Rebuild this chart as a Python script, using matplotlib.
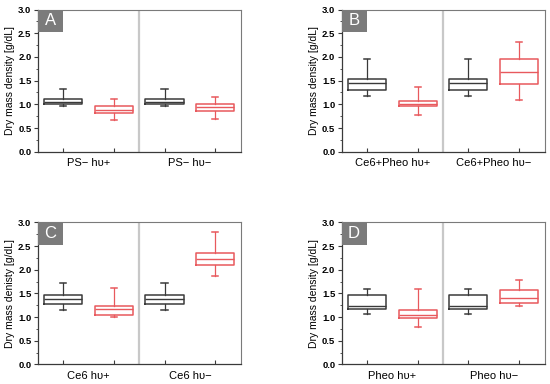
import matplotlib
matplotlib.use("Agg")
import matplotlib.pyplot as plt
from matplotlib.patches import Rectangle

plt.rcParams["font.family"] = ["Liberation Sans", "DejaVu Sans"]

# box statistics per panel: [ctrl hv+, treated hv+, ctrl hv-, treated hv-]
panel_letters = ["A", "B", "C", "D"]
group_labels = [
    ["PS\u2212 h\u03c5+", "PS\u2212 h\u03c5\u2212"],
    ["Ce6+Pheo h\u03c5+", "Ce6+Pheo h\u03c5\u2212"],
    ["Ce6 h\u03c5+", "Ce6 h\u03c5\u2212"],
    ["Pheo h\u03c5+", "Pheo h\u03c5\u2212"],
]
y_labels = [
    "Dry mass density [g/dL]",
    "Dry mass density [g/dL]",
    "Dry mass denisty [g/dL]",
    "Dry mass density [g/dL]",
]

whislo = [
    [0.97, 0.67, 0.97, 0.70],
    [1.17, 0.78, 1.17, 1.09],
    [1.14, 1.00, 1.14, 1.86],
    [1.07, 0.79, 1.07, 1.23],
]
q1 = [
    [1.01, 0.81, 1.01, 0.85],
    [1.30, 0.97, 1.30, 1.42],
    [1.27, 1.04, 1.27, 2.09],
    [1.18, 0.99, 1.18, 1.29],
]
med = [
    [1.05, 0.87, 1.05, 0.95],
    [1.45, 1.01, 1.45, 1.68],
    [1.38, 1.16, 1.38, 2.23],
    [1.24, 1.04, 1.24, 1.40],
]
q3 = [
    [1.11, 0.97, 1.11, 1.01],
    [1.54, 1.08, 1.54, 1.95],
    [1.47, 1.24, 1.47, 2.36],
    [1.47, 1.14, 1.47, 1.57],
]
whishi = [
    [1.32, 1.11, 1.32, 1.16],
    [1.95, 1.37, 1.95, 2.31],
    [1.71, 1.62, 1.71, 2.80],
    [1.59, 1.60, 1.59, 1.79],
]

BLACK = "#3a3a3a"
RED = "#e8595d"
box_colors = [BLACK, RED, BLACK, RED]

fig = plt.figure(figsize=(5.5, 3.84), dpi=100)
lefts = [0.0685, 0.621, 0.0685, 0.621]
bottoms = [0.605, 0.605, 0.051, 0.051]
W, H = 0.369, 0.370

for i in range(4):
    ax = fig.add_axes([lefts[i], bottoms[i], W, H])
    stats = []
    for j in range(4):
        stats.append(dict(whislo=whislo[i][j], q1=q1[i][j], med=med[i][j],
                          q3=q3[i][j], whishi=whishi[i][j], fliers=[]))
    for j, st in enumerate(stats):
        c = box_colors[j]
        ax.bxp([st], positions=[j + 1], widths=0.75, showfliers=False,
               boxprops=dict(color=c, linewidth=1.1),
               medianprops=dict(color=c, linewidth=1.0),
               whiskerprops=dict(color=c, linewidth=0.9),
               capprops=dict(color=c, linewidth=1.1),
               capwidths=0.12)
    ax.axvline(2.5, color="#c8c8c8", linewidth=1.6, zorder=0)
    ax.set_xlim(0.5, 4.5)
    ax.set_ylim(0, 3.0)
    ax.set_yticks([0, 0.5, 1.0, 1.5, 2.0, 2.5, 3.0])
    ax.set_yticks([0.25, 0.75, 1.25, 1.75, 2.25, 2.75], minor=True)
    ax.set_yticklabels([f"{v:.1f}" for v in ax.get_yticks()],
                       fontsize=6.8, fontweight="bold")
    ax.set_xticks([1, 2, 3, 4])
    ax.set_xticklabels([])
    ax.tick_params(axis="x", direction="in", length=3, width=0.8, color=BLACK)
    ax.tick_params(axis="y", which="major", direction="out", length=3,
                   width=0.8, pad=1.5, color=BLACK)
    ax.tick_params(axis="y", which="minor", direction="out", length=1.8,
                   width=0.6, color=BLACK)
    for lab_x, lab in zip([1.5, 3.5], group_labels[i]):
        ax.text(lab_x, -0.045, lab, ha="center", va="top", fontsize=8,
                transform=ax.get_xaxis_transform())
    ax.set_ylabel(y_labels[i], fontsize=7.5, labelpad=2)
    for side in ["left", "bottom"]:
        ax.spines[side].set_color(BLACK)
        ax.spines[side].set_linewidth(0.9)
    for side in ["top", "right"]:
        ax.spines[side].set_color("#7a7a7a")
        ax.spines[side].set_linewidth(0.8)
    ax.add_patch(Rectangle((0.0, 0.84), 0.123, 0.16, transform=ax.transAxes,
                           facecolor="#7b7b7b", edgecolor="none", zorder=3))
    ax.text(0.0615, 0.92, panel_letters[i], transform=ax.transAxes,
            ha="center", va="center", color="white", fontsize=12, zorder=4)

fig.savefig("out.png", dpi=100)
